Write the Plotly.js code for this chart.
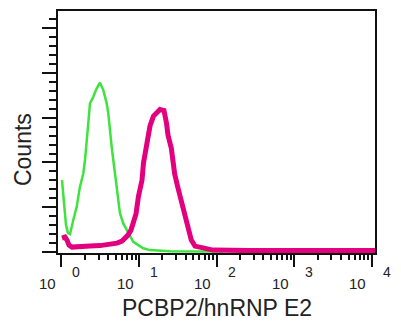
<!DOCTYPE html>
<html>
<head>
<meta charset="utf-8">
<script src="https://cdn.plot.ly/plotly-3.0.1.min.js"></script>
<style>html,body{margin:0;padding:0;background:#fff;}#chart{width:401px;height:335px;}</style>
</head>
<body>
<div id="chart"></div>
<script>
// Isotype control (green) histogram: fluorescence value and counts
const greenX = [1.015, 1.077, 1.143, 1.213, 1.287, 1.419, 1.570, 1.730, 1.910, 2.009, 2.112, 2.215, 2.329, 2.570, 2.843, 3.133, 3.459, 3.822, 4.009, 4.217, 4.436, 4.652, 4.890, 5.143, 5.395, 5.672, 6.254, 6.918, 7.634, 8.421, 9.763, 11.33, 13.81, 25.0, 60.9, 120];
const greenY = [32.1, 21.0, 12.1, 8.5, 8.0, 14.3, 20.2, 29.2, 35.1, 41.1, 51.5, 57.5, 66.4, 69.3, 73.1, 75.6, 72.3, 66.4, 61.9, 53.0, 47.0, 41.1, 35.1, 29.2, 23.2, 17.3, 12.8, 9.8, 6.8, 4.6, 3.1, 1.7, 0.9, 0.4, 0.3, 0.3];

// PCBP2/hnRNP E2 stained (magenta) histogram
const magentaX = [1.015, 1.110, 1.177, 1.249, 1.366, 1.893, 2.330, 3.134, 4.217, 5.191, 6.021, 6.580, 7.194, 7.864, 8.596, 9.124, 9.824, 10.90, 11.39, 12.64, 13.22, 13.82, 15.33, 17.01, 18.59, 20.94, 21.89, 22.55, 23.57, 26.00, 27.35, 28.76, 31.72, 34.98, 38.69, 42.68, 47.07, 52.54, 66.62, 89.6, 268.6, 1184, 11000];
const magentaY = [6.25, 6.70, 5.36, 3.13, 2.23, 2.23, 2.68, 2.90, 3.35, 4.02, 4.91, 6.25, 7.59, 9.82, 13.4, 17.0, 25.0, 32.1, 39.7, 47.3, 51.8, 56.3, 60.7, 62.5, 63.6, 63.2, 60.3, 57.6, 52.2, 46.4, 40.6, 34.8, 28.6, 22.8, 17.0, 11.2, 5.36, 2.68, 1.79, 0.89, 0.67, 0.67, 0.67];

// Axis tick labels (decades)
const decadeVals = [1, 10, 100, 1000, 10000];
const decadeExp = ["0", "1", "2", "3", "4"];
const xTitle = "PCBP2/hnRNP E2";
const yTitle = "Counts";

const minorX = [];
for (let d = 0; d < 4; d++) for (let m = 2; m <= 9; m++) minorX.push(m * Math.pow(10, d));

const traces = [
  {x: greenX, y: greenY, type: 'scatter', mode: 'lines', line: {color: '#3fe23f', width: 2.5, shape: 'linear'}, hoverinfo: 'skip'},
  {x: magentaX, y: magentaY, type: 'scatter', mode: 'lines', line: {color: '#e2007f', width: 5, shape: 'linear'}, hoverinfo: 'skip'}
];

const FONT = 'Liberation Sans, Arial, sans-serif';
const annotations = [];
decadeVals.forEach((v, i) => {
  annotations.push({x: Math.log10(v), xref: 'x', y: 0, yref: 'paper', yanchor: 'middle', xanchor: 'center', xshift: -14, yshift: -30, text: '10', showarrow: false, font: {family: FONT, size: 15, color: '#222'}});
  annotations.push({x: Math.log10(v), xref: 'x', y: 0, yref: 'paper', yanchor: 'middle', xanchor: 'center', xshift: 15, yshift: -19, text: decadeExp[i], showarrow: false, font: {family: FONT, size: 14, color: '#222'}});
});
annotations.push({x: 0.503, xref: 'paper', y: -0.227, yref: 'paper', xanchor: 'center', yanchor: 'middle', text: xTitle, showarrow: false, font: {family: FONT, size: 23, color: '#222'}});
annotations.push({x: -0.110, xref: 'paper', y: 0.426, yref: 'paper', xanchor: 'center', yanchor: 'middle', textangle: -90, text: yTitle, showarrow: false, font: {family: FONT, size: 23, color: '#222'}});

const layout = {
  width: 401, height: 335,
  margin: {l: 58, r: 26, t: 11, b: 82},
  paper_bgcolor: '#fff', plot_bgcolor: '#fff',
  showlegend: false,
  xaxis: {
    type: 'log', range: [-0.045, 4.04],
    showgrid: false, zeroline: false,
    showline: true, mirror: true, linecolor: '#111', linewidth: 2,
    tickmode: 'array', tickvals: decadeVals, showticklabels: false,
    ticks: 'outside', ticklen: 12, tickwidth: 2, tickcolor: '#111',
    minor: {tickmode: 'array', tickvals: minorX, ticks: 'outside', ticklen: 5, tickwidth: 2, tickcolor: '#111', showgrid: false}
  },
  yaxis: {
    range: [-0.4, 107.6],
    showgrid: false, zeroline: false,
    showline: true, mirror: true, linecolor: '#111', linewidth: 2,
    tick0: 0, dtick: 20, showticklabels: false,
    ticks: 'outside', ticklen: 14, tickwidth: 2, tickcolor: '#111',
    minor: {tick0: 0, dtick: 4, ticks: 'outside', ticklen: 7, tickwidth: 2, tickcolor: '#111', showgrid: false}
  },
  annotations: annotations
};

Plotly.newPlot('chart', traces, layout, {staticPlot: true, displayModeBar: false});
</script>
</body>
</html>
